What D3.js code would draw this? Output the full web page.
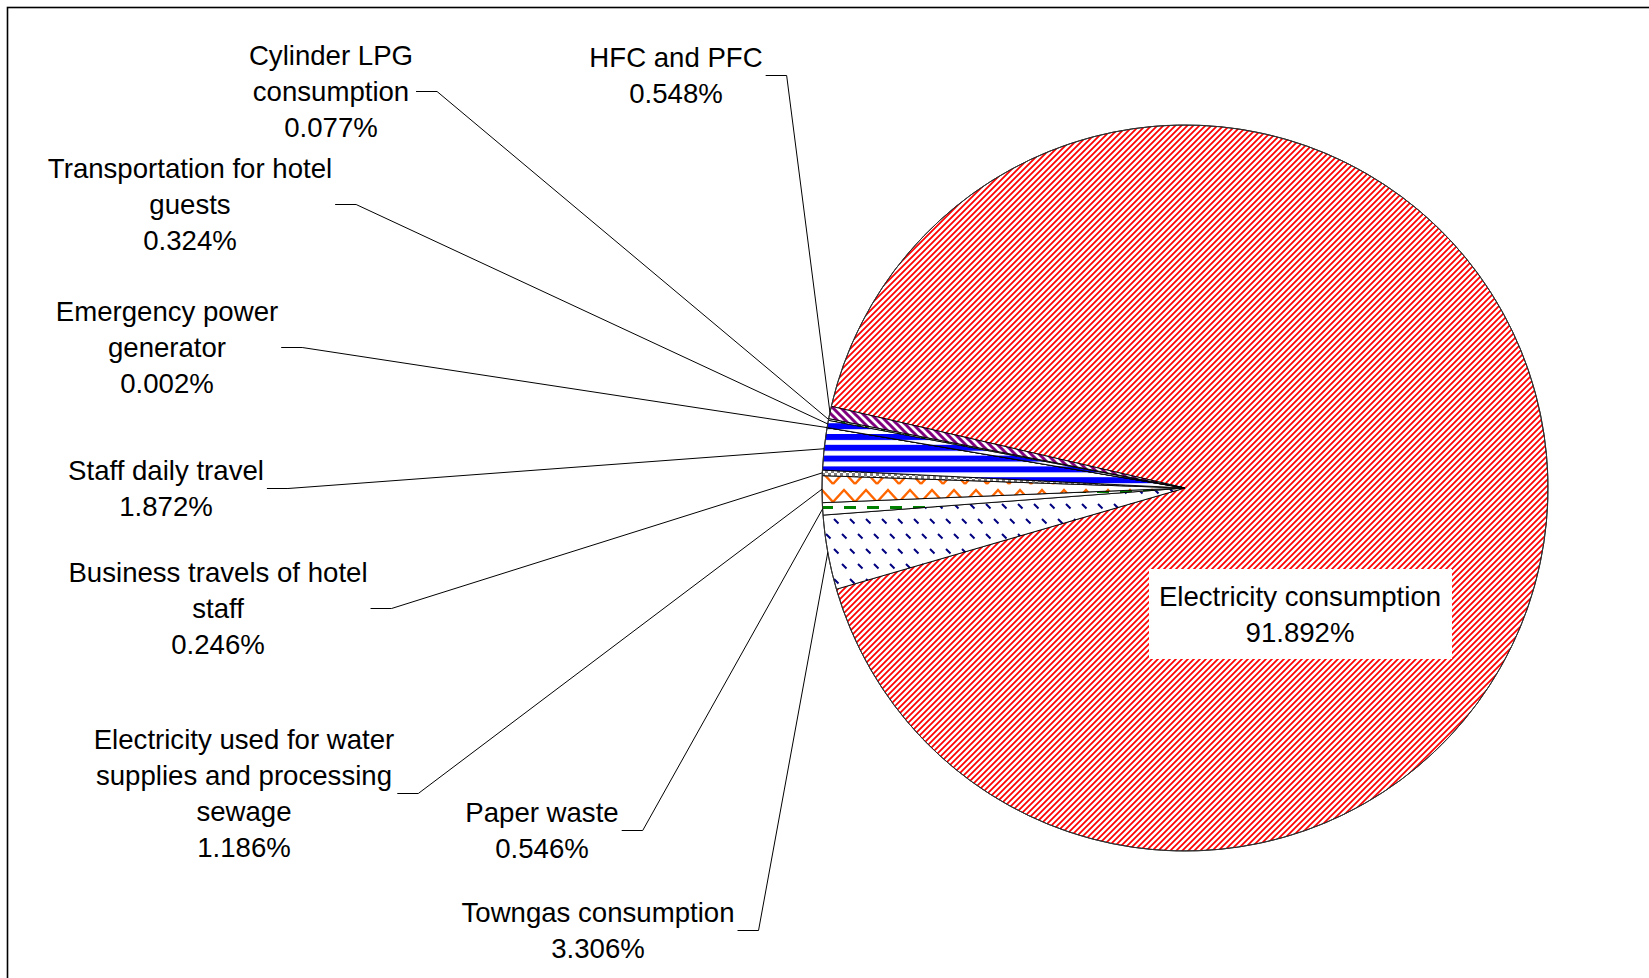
<!DOCTYPE html>
<html>
<head>
<meta charset="utf-8">
<script src="https://cdn.jsdelivr.net/npm/d3@7"></script>
<style>
  html, body { margin: 0; padding: 0; background: #fff; }
  svg { display: block; }
  text { font-family: "Liberation Sans", Arial, sans-serif; font-size: 27.6px; fill: #000; }
</style>
</head>
<body>
<svg id="chart" width="1649" height="978"></svg>
<script>
// Emission sources, in the order the slices run clockwise
const categories = [
  "Electricity consumption",
  "Towngas consumption",
  "Paper waste",
  "Electricity used for water supplies and processing sewage",
  "Business travels of hotel staff",
  "Staff daily travel",
  "Emergency power generator",
  "Transportation for hotel guests",
  "Cylinder LPG consumption",
  "HFC and PFC"
];
// Share of total emissions (%)
const shares = [91.892, 3.306, 0.546, 1.186, 0.246, 1.872, 0.002, 0.324, 0.077, 0.548];
// How each category name wraps onto lines
const nameLines = [
  ["Electricity consumption"],
  ["Towngas consumption"],
  ["Paper waste"],
  ["Electricity used for water", "supplies and processing", "sewage"],
  ["Business travels of hotel", "staff"],
  ["Staff daily travel"],
  ["Emergency power", "generator"],
  ["Transportation for hotel", "guests"],
  ["Cylinder LPG", "consumption"],
  ["HFC and PFC"]
];
// Fill pattern used by each slice
const fills = ["redHatch", "navyDots", "greenDash", "orangeZig", "grayCheck", "blueStripe", "blackSolid", "blueStripe", "greenDots", "purpleHatch"];

// Label placement: centre x and first baseline of each label block
const labelPlacement = [
  { x: 1300, y: 606 },
  { x: 598, y: 922 },
  { x: 542, y: 822 },
  { x: 244, y: 749 },
  { x: 218, y: 582 },
  { x: 166, y: 480 },
  { x: 167, y: 321 },
  { x: 190, y: 178 },
  { x: 331, y: 65 },
  { x: 676, y: 67 }
];

const width = 1649, height = 978;
const cx = 1185, cy = 488, radius = 363;
const lineHeight = 36;
const rad = d => d * Math.PI / 180;

const svg = d3.select("#chart");
const defs = svg.append("defs");

// ---- pattern fills ----
function pattern(id, w, h, bg) {
  const p = defs.append("pattern").attr("id", id)
    .attr("patternUnits", "userSpaceOnUse").attr("width", w).attr("height", h);
  p.append("rect").attr("width", w).attr("height", h).attr("fill", bg || "#fff");
  return p;
}
// red upward diagonal hatch
{
  const s = 6;
  const p = pattern("redHatch", s, s);
  p.append("path").attr("d", `M-1.5,1.5 L1.5,-1.5 M0,${s} L${s},0 M${s - 1.5},${s + 1.5} L${s + 1.5},${s - 1.5}`)
    .attr("stroke", "#ff0000").attr("stroke-width", 1.75);
}
// purple wide diagonal
{
  const p = pattern("purpleHatch", 8, 8);
  p.append("path").attr("d", "M-2,-2 L10,10 M-2,6 L2,10 M6,-2 L10,2")
    .attr("stroke", "#800080").attr("stroke-width", 3);
}
// green small dots
{
  const p = pattern("greenDots", 8, 4);
  p.append("rect").attr("x", 0).attr("y", 1).attr("width", 4).attr("height", 2.5).attr("fill", "#008000");
}
// blue horizontal stripes
{
  const p = pattern("blueStripe", 10, 10.8);
  p.append("rect").attr("x", 0).attr("y", 0).attr("width", 10).attr("height", 6).attr("fill", "#0000ff");
}
// solid black
pattern("blackSolid", 4, 4, "#000");
// gray checker
{
  const p = pattern("grayCheck", 6, 6);
  p.append("rect").attr("x", 0).attr("y", 0).attr("width", 3).attr("height", 3).attr("fill", "#808080");
  p.append("rect").attr("x", 3).attr("y", 3).attr("width", 3).attr("height", 3).attr("fill", "#808080");
}
// orange zigzag
{
  const p = pattern("orangeZig", 22, 18);
  p.append("path").attr("d", "M0,14 L11,2 L22,14")
    .attr("fill", "none").attr("stroke", "#ff6600").attr("stroke-width", 2.4);
}
// green dashes
{
  const p = pattern("greenDash", 23, 16);
  p.append("rect").attr("x", 4).attr("y", 2).attr("width", 12).attr("height", 3).attr("fill", "#008000");
}
// navy small diagonal dashes
{
  const p = pattern("navyDots", 16, 30);
  p.append("path").attr("d", "M1,1 L5.5,5.5 M9,16 L13.5,20.5")
    .attr("stroke", "#000080").attr("stroke-width", 2);
}

// ---- frame ----
svg.append("rect")
  .attr("x", 7.5).attr("y", 7.5).attr("width", width).attr("height", height)
  .attr("fill", "none").attr("stroke", "#000").attr("stroke-width", 1.6);

// ---- pie ----
const data = categories.map((c, i) => ({ name: c, share: shares[i], lines: nameLines[i], fill: fills[i], place: labelPlacement[i] }));

const start = rad(283);
const pie = d3.pie().sort(null).value(d => d.share).startAngle(start).endAngle(start + 2 * Math.PI);
const arcs = pie(data);
const arc = d3.arc().innerRadius(0).outerRadius(radius);

const g = svg.append("g").attr("transform", `translate(${cx},${cy})`);
g.selectAll("path.slice").data(arcs).join("path")
  .attr("class", "slice")
  .attr("d", arc)
  .attr("fill", d => `url(#${d.data.fill})`)
  .attr("stroke", "#000").attr("stroke-width", 0.9).attr("stroke-linejoin", "round");

g.append("circle").attr("r", radius).attr("fill", "none").attr("stroke", "#333").attr("stroke-width", 1);

// ---- labels and leader lines ----
const fmt = v => v.toFixed(3) + "%";
const labels = svg.append("g");
const leaders = svg.append("g");

arcs.forEach((a, i) => {
  const d = a.data;
  const lines = d.lines.concat([fmt(d.share)]);
  const isMain = i === 0;

  const lg = labels.append("g");
  if (isMain) {
    lg.append("rect")
      .attr("x", 1149).attr("y", 569).attr("width", 303).attr("height", 90)
      .attr("fill", "#fff");
  }
  const t = lg.append("text").attr("text-anchor", "middle");
  lines.forEach((ln, k) => {
    t.append("tspan").attr("x", d.place.x).attr("y", d.place.y + k * lineHeight).text(ln);
  });

  if (!isMain) {
    const bb = t.node().getBBox();
    const sx = bb.x + bb.width + 3;
    const sy = bb.y + bb.height / 2;
    const mid = (a.startAngle + a.endAngle) / 2;
    const px = cx + radius * Math.sin(mid);
    const py = cy - radius * Math.cos(mid);
    leaders.append("path")
      .attr("d", `M${sx},${sy} L${sx + 21},${sy} L${px},${py}`)
      .attr("fill", "none").attr("stroke", "#000").attr("stroke-width", 1);
  }
});
</script>
</body>
</html>
